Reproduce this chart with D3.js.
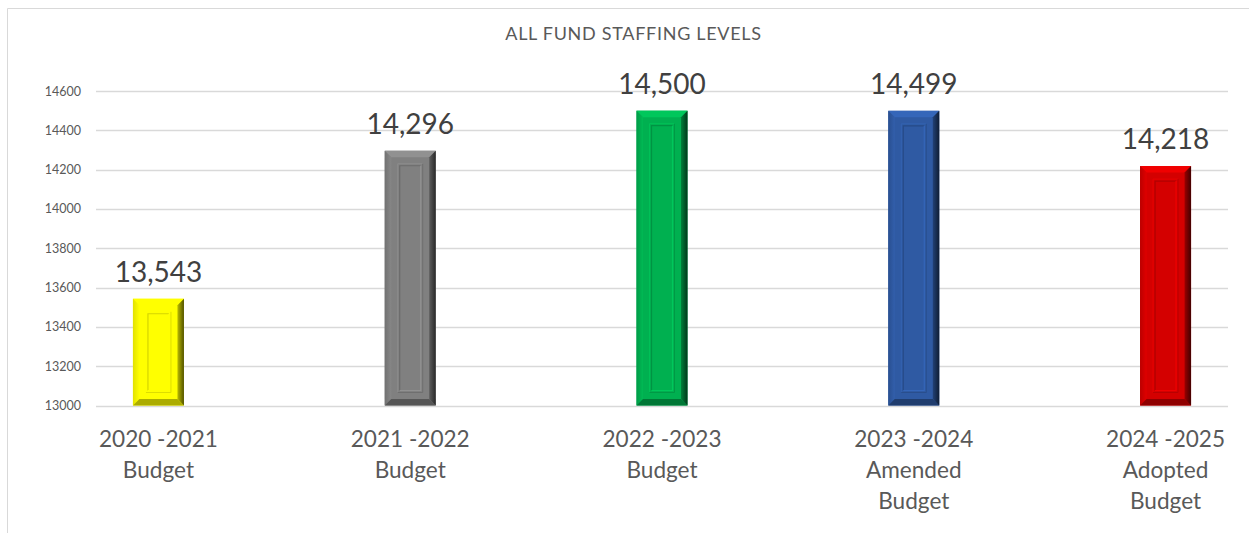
<!DOCTYPE html>
<html>
<head>
<meta charset="utf-8">
<script src="https://cdn.jsdelivr.net/npm/d3@7"></script>
<style>
  html, body { margin: 0; padding: 0; background: #ffffff; }
  svg { display: block; }
  text { font-family: Lato, "Open Sans", "DejaVu Sans", sans-serif; }
</style>
</head>
<body>
<svg id="chart" width="1249" height="533"></svg>
<script>
// Staffing levels by budget year
const categories = [
  ["2020 -2021", "Budget"],
  ["2021 -2022", "Budget"],
  ["2022 -2023", "Budget"],
  ["2023 -2024", "Amended", "Budget"],
  ["2024 -2025", "Adopted", "Budget"]
];
const staffing = [13543, 14296, 14500, 14499, 14218];
const barColors = ["#ffff00", "#808080", "#00b050", "#2f5aa3", "#d40000"];
const yTicks = [13000, 13200, 13400, 13600, 13800, 14000, 14200, 14400, 14600];
const title = "ALL FUND STAFFING LEVELS";

const W = 1249, H = 533;
const plot = { left: 96, right: 1228, top: 91, bottom: 405.5 };
const svg = d3.select("#chart");

// chart frame
svg.append("path")
  .attr("d", `M7.5,${H} L7.5,8.5 L${W},8.5`)
  .attr("fill", "none")
  .attr("stroke", "#d9d9d9")
  .attr("stroke-width", 1);

svg.append("text")
  .attr("x", 633.5)
  .attr("y", 40)
  .attr("text-anchor", "middle")
  .attr("font-size", 18)
  .attr("letter-spacing", 0.7)
  .attr("fill", "#595959")
  .text(title);

const keys = categories.map(c => c.join(" "));
const x = d3.scalePoint().domain(keys).range([plot.left, plot.right]).padding(0.248);
const y = d3.scaleLinear().domain([13000, 14600]).range([plot.bottom, plot.top]);

// gridlines
svg.append("g")
  .selectAll("line")
  .data(yTicks)
  .join("line")
  .attr("x1", plot.left)
  .attr("x2", plot.right)
  .attr("y1", d => Math.round(y(d)) + 0.5)
  .attr("y2", d => Math.round(y(d)) + 0.5)
  .attr("stroke", "#d9d9d9")
  .attr("stroke-width", 1.3);

// y axis labels
const yAxis = d3.axisLeft(y).tickValues(yTicks).tickSize(0).tickPadding(0).tickFormat(d3.format("d"));
const yg = svg.append("g").attr("transform", "translate(81,0)").call(yAxis);
yg.select(".domain").remove();
yg.selectAll("text")
  .attr("font-family", "Lato, sans-serif")
  .attr("font-size", 12.5)
  .attr("fill", "#595959");

// bars with bevelled frame
const barW = 51;
const defs = svg.append("defs");
const bars = svg.append("g");

staffing.forEach((v, i) => {
  const c = d3.color(barColors[i]);
  const cx = x(keys[i]);
  const x0 = cx - barW / 2, x1 = cx + barW / 2;
  const y0 = y(v), y1 = y(13000);
  const b = 6.5;      // outer bevel width
  const ins = 15;     // inner panel inset
  const g = bars.append("g");

  // right edge shading gradient
  const gid = "rg" + i;
  const rg = defs.append("linearGradient").attr("id", gid)
    .attr("x1", "0").attr("x2", "1").attr("y1", "0").attr("y2", "0");
  rg.append("stop").attr("offset", "0").attr("stop-color", c.darker(0.9));
  rg.append("stop").attr("offset", "1").attr("stop-color", c.darker(3.2));

  const lgid = "lg" + i;
  const lg = defs.append("linearGradient").attr("id", lgid)
    .attr("x1", "0").attr("x2", "1").attr("y1", "0").attr("y2", "0");
  lg.append("stop").attr("offset", "0").attr("stop-color", c.darker(0.35));
  lg.append("stop").attr("offset", "1").attr("stop-color", c.brighter(0.15));

  g.append("rect")
    .attr("x", x0).attr("y", y0)
    .attr("width", barW).attr("height", y1 - y0)
    .attr("fill", c);

  // top bevel
  g.append("path")
    .attr("d", `M${x0},${y0} L${x1},${y0} L${x1 - b},${y0 + b} L${x0 + b},${y0 + b} Z`)
    .attr("fill", c.brighter(0.35));
  // left bevel
  g.append("path")
    .attr("d", `M${x0},${y0} L${x0 + b},${y0 + b} L${x0 + b},${y1 - b} L${x0},${y1} Z`)
    .attr("fill", `url(#${lgid})`);
  // bottom bevel
  g.append("path")
    .attr("d", `M${x0},${y1} L${x0 + b},${y1 - b} L${x1 - b},${y1 - b} L${x1},${y1} Z`)
    .attr("fill", c.darker(1.1));
  // right bevel
  g.append("path")
    .attr("d", `M${x1},${y0} L${x1},${y1} L${x1 - b},${y1 - b} L${x1 - b},${y0 + b} Z`)
    .attr("fill", `url(#${gid})`);

  // inner recessed panel
  const ix0 = x0 + ins, ix1 = x1 - ins, iy0 = y0 + ins, iy1 = y1 - ins;
  if (iy1 > iy0) {
    g.append("path")
      .attr("d", `M${ix0},${iy1} L${ix0},${iy0} L${ix1},${iy0}`)
      .attr("fill", "none")
      .attr("stroke", c.darker(0.5))
      .attr("stroke-width", 1.2);
    g.append("path")
      .attr("d", `M${ix1},${iy0} L${ix1},${iy1} L${ix0},${iy1}`)
      .attr("fill", "none")
      .attr("stroke", c.brighter(0.35))
      .attr("stroke-width", 1.2);
    g.append("path")
      .attr("d", `M${ix0 - 2},${iy1 + 2} L${ix0 - 2},${iy0 - 2} L${ix1 + 2},${iy0 - 2}`)
      .attr("fill", "none")
      .attr("stroke", c.brighter(0.25))
      .attr("stroke-width", 1);
    g.append("path")
      .attr("d", `M${ix1 + 2},${iy0 - 2} L${ix1 + 2},${iy1 + 2} L${ix0 - 2},${iy1 + 2}`)
      .attr("fill", "none")
      .attr("stroke", c.darker(0.4))
      .attr("stroke-width", 1);
  }
});

// value labels
svg.append("g")
  .selectAll("text")
  .data(staffing)
  .join("text")
  .attr("x", (d, i) => x(keys[i]))
  .attr("y", d => y(d) - 17)
  .attr("text-anchor", "middle")
  .attr("font-size", 28)
  .attr("fill", "#404040")
  .text(d => d3.format(",")(d));

// category labels
const cat = svg.append("g")
  .selectAll("text")
  .data(categories)
  .join("text")
  .attr("x", (d, i) => x(keys[i]))
  .attr("y", 447)
  .attr("text-anchor", "middle")
  .attr("font-size", 22.6)
  .attr("fill", "#595959");
cat.selectAll("tspan")
  .data(d => d)
  .join("tspan")
  .attr("x", function() { return d3.select(this.parentNode).attr("x"); })
  .attr("dy", (d, j) => j === 0 ? 0 : 31)
  .text(d => d);
</script>
</body>
</html>
